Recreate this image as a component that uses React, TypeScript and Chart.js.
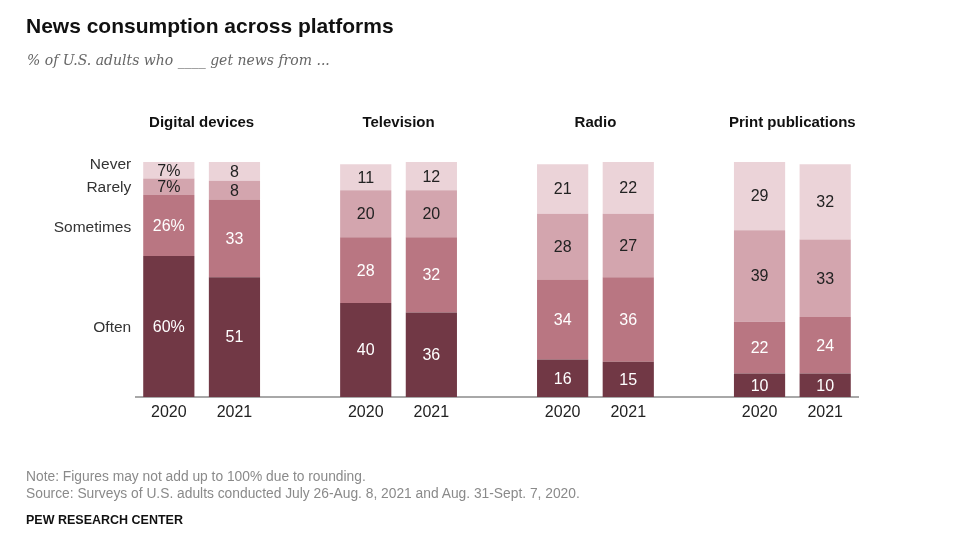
import React, { useEffect, useRef } from "react";
import { Chart, registerables } from "chart.js";

Chart.register(...registerables);

const platforms = ["Digital devices", "Television", "Radio", "Print publications"];
const years = ["2020", "2021"];
const seriesNames = ["Often", "Sometimes", "Rarely", "Never"];
// values per platform, [2020, 2021]
const often = [60, 51, 40, 36, 16, 15, 10, 10];
const sometimes = [26, 33, 28, 32, 34, 36, 22, 24];
const rarely = [7, 8, 20, 20, 28, 27, 39, 33];
const never = [7, 8, 11, 12, 21, 22, 29, 32];

const colors = ["#713845", "#b97682", "#d3a5ae", "#ebd3d8"];
const labelColors = ["#ffffff", "#ffffff", "#222222", "#222222"];

const FONT = "'Liberation Sans', Arial, sans-serif";

// build slot layout: 2020, 2021, gap, 2020, 2021, gap, ...
const slotLabels: string[] = [];
const slotIndex: (number | null)[] = [];
platforms.forEach((_, p) => {
  years.forEach((y, yi) => {
    slotLabels.push(y);
    slotIndex.push(p * 2 + yi);
  });
  if (p < platforms.length - 1) {
    slotLabels.push("");
    slotIndex.push(null);
  }
});

const toSlots = (arr: number[]) => slotIndex.map((i) => (i === null ? null : arr[i]));

const barLabelPlugin = {
  id: "barLabels",
  afterDatasetsDraw(chart: any) {
    const ctx = chart.ctx;
    ctx.save();
    ctx.textAlign = "center";
    ctx.textBaseline = "middle";
    ctx.font = `16px ${FONT}`;
    chart.data.datasets.forEach((ds: any, di: number) => {
      const meta = chart.getDatasetMeta(di);
      meta.data.forEach((el: any, i: number) => {
        const v = ds.data[i];
        if (v === null || v === undefined) return;
        const suffix = i === 0 ? "%" : "";
        ctx.fillStyle = labelColors[di];
        ctx.fillText(String(v) + suffix, el.x, (el.y + el.base) / 2 + 1);
      });
    });
    // row labels left of first bar
    ctx.textAlign = "right";
    ctx.font = `15.5px ${FONT}`;
    ctx.fillStyle = "#333333";
    chart.data.datasets.forEach((ds: any, di: number) => {
      const el = chart.getDatasetMeta(di).data[0];
      let y = (el.y + el.base) / 2;
      if (di === 3) y -= 7;
      if (di === 1) y += 1;
      ctx.fillText(ds.label, el.x - el.width / 2 - 12, y + 1);
    });
    // group titles
    ctx.textAlign = "center";
    ctx.font = `bold 15px ${FONT}`;
    ctx.fillStyle = "#111111";
    const meta0 = chart.getDatasetMeta(0);
    platforms.forEach((name, p) => {
      const a = meta0.data[p * 3];
      const b = meta0.data[p * 3 + 1];
      ctx.fillText(name, (a.x + b.x) / 2, 123);
    });
    ctx.restore();
  },
};

export default function App() {
  const ref = useRef<HTMLCanvasElement | null>(null);
  useEffect(() => {
    document.body.style.margin = "0";
    const canvas = ref.current!;
    const chart = new Chart(canvas, {
      type: "bar",
      data: {
        labels: slotLabels,
        datasets: [often, sometimes, rarely, never].map((arr, i) => ({
          label: seriesNames[i],
          data: toSlots(arr),
          backgroundColor: colors[i],
          borderWidth: 0,
          barPercentage: 0.78,
          categoryPercentage: 1,
        })),
      },
      options: {
        animation: false,
        responsive: false,
        maintainAspectRatio: false,
        layout: { padding: { left: 136, right: 105, top: 162, bottom: 119 } },
        plugins: {
          legend: { display: false },
          tooltip: { enabled: false },
          title: { display: false },
        },
        scales: {
          x: {
            stacked: true,
            grid: { display: false, drawTicks: false },
            border: { display: true, color: "#a8a8a8", width: 2 },
            ticks: {
              padding: 6,
              color: "#222222",
              font: { family: FONT, size: 16 },
              autoSkip: false,
              maxRotation: 0,
            },
            afterFit: (scale: any) => {
              scale.height = 30;
            },
          },
          y: {
            stacked: true,
            display: false,
            min: 0,
            max: 100,
          },
        },
      },
      plugins: [barLabelPlugin],
    });
    return () => chart.destroy();
  }, []);

  return (
    <div style={{ position: "relative", width: 963, height: 546, background: "#ffffff", overflow: "hidden" }}>
      <canvas ref={ref} width={963} height={546} style={{ position: "absolute", left: 0, top: 0, width: 963, height: 546 }} />
      <div style={{ position: "absolute", left: 26, top: 14, font: `bold 21px ${FONT}`, color: "#111" }}>
        News consumption across platforms
      </div>
      <div style={{ position: "absolute", left: 27, top: 52, font: `italic 14px 'DejaVu Serif', Georgia, serif`, color: "#666" }}>
        % of U.S. adults who ____ get news from ...
      </div>
      <div style={{ position: "absolute", left: 26, top: 468, font: `13.8px ${FONT}`, color: "#8a8a8a", lineHeight: "17px" }}>
        Note: Figures may not add up to 100% due to rounding.
        <br />
        Source: Surveys of U.S. adults conducted July 26-Aug. 8, 2021 and Aug. 31-Sept. 7, 2020.
      </div>
      <div style={{ position: "absolute", left: 26, top: 513, font: `bold 12.5px ${FONT}`, color: "#111" }}>
        PEW RESEARCH CENTER
      </div>
    </div>
  );
}
